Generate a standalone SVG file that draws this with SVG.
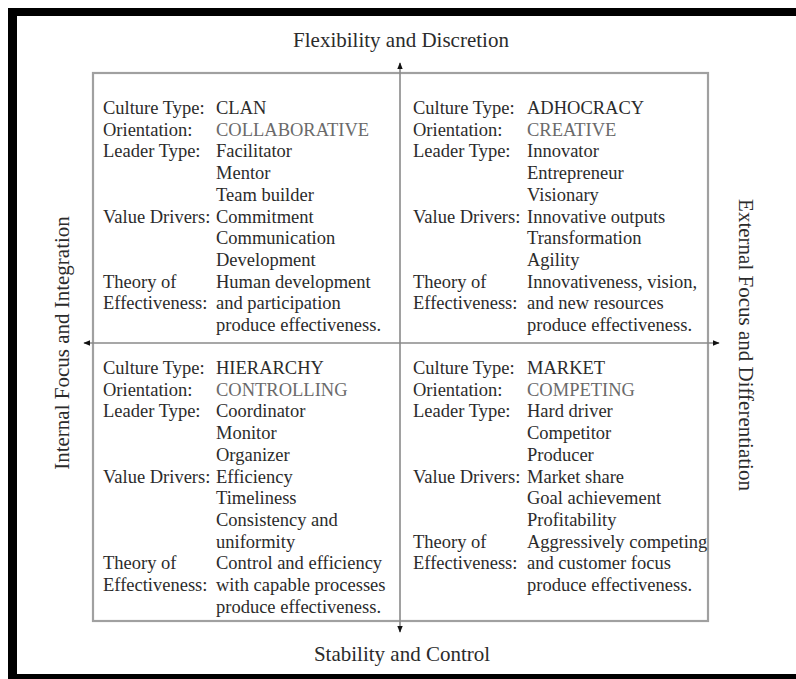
<svg xmlns="http://www.w3.org/2000/svg" width="796" height="679" viewBox="0 0 796 679">
<defs>
<style>
.t{font-family:"Liberation Serif","Times New Roman",serif;font-size:18.5px;fill:#2b2b2b}
.o{fill:#6a6a6a}
.ax{font-family:"Liberation Serif","Times New Roman",serif;font-size:21px;fill:#2b2b2b;text-anchor:middle}
.ln{stroke:#8a8a8a;stroke-width:1.6;fill:none}
.box{stroke:#a0a0a0;stroke-width:2.2;fill:none}
</style>
<marker id="ah" viewBox="0 0 10 10" refX="9" refY="5" markerWidth="7" markerHeight="7" orient="auto-start-reverse" markerUnits="userSpaceOnUse">
<path d="M0,1 L10,5 L0,9 z" fill="#111"/>
</marker>
</defs>
<rect width="796" height="679" fill="#fff"/>
<g id="frame" fill="#000">
<rect x="8" y="8" width="788" height="8"/>
<rect x="8" y="8" width="9" height="671"/>
<rect x="8" y="674" width="788" height="5"/>
</g>
<g id="box">
<rect class="box" x="93" y="73" width="615" height="548"/>
</g>
<g id="connectors">
<line class="ln" x1="400" y1="343" x2="400" y2="63" marker-end="url(#ah)"/>
<line class="ln" x1="400" y1="343" x2="400" y2="632" marker-end="url(#ah)"/>
<line class="ln" x1="400" y1="343" x2="84" y2="343" marker-end="url(#ah)"/>
<line class="ln" x1="400" y1="343" x2="719" y2="343" marker-end="url(#ah)"/>
</g>
<g id="axis-top"><text class="ax" x="401" y="47">Flexibility and Discretion</text></g>
<g id="axis-bottom"><text class="ax" x="402" y="661">Stability and Control</text></g>
<g id="axis-left"><text class="ax" transform="translate(69,343) rotate(-90)">Internal Focus and Integration</text></g>
<g id="axis-right"><text class="ax" transform="translate(739,345) rotate(90)">External Focus and Differentiation</text></g>
<g id="clan" class="t">
<text class="t" x="103" y="114">Culture Type:</text>
<text class="t" x="216" y="114">CLAN</text>
<text class="t" x="103" y="135.7">Orientation:</text>
<text class="t o" x="216" y="135.7">COLLABORATIVE</text>
<text class="t" x="103" y="157.4">Leader Type:</text>
<text class="t" x="216" y="157.4">Facilitator</text>
<text class="t" x="216" y="179.1">Mentor</text>
<text class="t" x="216" y="200.8">Team builder</text>
<text class="t" x="103" y="222.5">Value Drivers:</text>
<text class="t" x="216" y="222.5">Commitment</text>
<text class="t" x="216" y="244.2">Communication</text>
<text class="t" x="216" y="265.9">Development</text>
<text class="t" x="103" y="287.6">Theory of</text>
<text class="t" x="216" y="287.6">Human development</text>
<text class="t" x="103" y="309.3">Effectiveness:</text>
<text class="t" x="216" y="309.3">and participation</text>
<text class="t" x="216" y="331">produce effectiveness.</text>
</g>
<g id="adhocracy">
<text class="t" x="413" y="114">Culture Type:</text>
<text class="t" x="527" y="114">ADHOCRACY</text>
<text class="t" x="413" y="135.7">Orientation:</text>
<text class="t o" x="527" y="135.7">CREATIVE</text>
<text class="t" x="413" y="157.4">Leader Type:</text>
<text class="t" x="527" y="157.4">Innovator</text>
<text class="t" x="527" y="179.1">Entrepreneur</text>
<text class="t" x="527" y="200.8">Visionary</text>
<text class="t" x="413" y="222.5">Value Drivers:</text>
<text class="t" x="527" y="222.5">Innovative outputs</text>
<text class="t" x="527" y="244.2">Transformation</text>
<text class="t" x="527" y="265.9">Agility</text>
<text class="t" x="413" y="287.6">Theory of</text>
<text class="t" x="527" y="287.6">Innovativeness, vision,</text>
<text class="t" x="413" y="309.3">Effectiveness:</text>
<text class="t" x="527" y="309.3">and new resources</text>
<text class="t" x="527" y="331">produce effectiveness.</text>
</g>
<g id="hierarchy">
<text class="t" x="103" y="374">Culture Type:</text>
<text class="t" x="216" y="374">HIERARCHY</text>
<text class="t" x="103" y="395.7">Orientation:</text>
<text class="t o" x="216" y="395.7">CONTROLLING</text>
<text class="t" x="103" y="417.4">Leader Type:</text>
<text class="t" x="216" y="417.4">Coordinator</text>
<text class="t" x="216" y="439.1">Monitor</text>
<text class="t" x="216" y="460.8">Organizer</text>
<text class="t" x="103" y="482.5">Value Drivers:</text>
<text class="t" x="216" y="482.5">Efficiency</text>
<text class="t" x="216" y="504.2">Timeliness</text>
<text class="t" x="216" y="525.9">Consistency and</text>
<text class="t" x="216" y="547.6">uniformity</text>
<text class="t" x="103" y="569.3">Theory of</text>
<text class="t" x="216" y="569.3">Control and efficiency</text>
<text class="t" x="103" y="591">Effectiveness:</text>
<text class="t" x="216" y="591">with capable processes</text>
<text class="t" x="216" y="612.7">produce effectiveness.</text>
</g>
<g id="market">
<text class="t" x="413" y="374">Culture Type:</text>
<text class="t" x="527" y="374">MARKET</text>
<text class="t" x="413" y="395.7">Orientation:</text>
<text class="t o" x="527" y="395.7">COMPETING</text>
<text class="t" x="413" y="417.4">Leader Type:</text>
<text class="t" x="527" y="417.4">Hard driver</text>
<text class="t" x="527" y="439.1">Competitor</text>
<text class="t" x="527" y="460.8">Producer</text>
<text class="t" x="413" y="482.5">Value Drivers:</text>
<text class="t" x="527" y="482.5">Market share</text>
<text class="t" x="527" y="504.2">Goal achievement</text>
<text class="t" x="527" y="525.9">Profitability</text>
<text class="t" x="413" y="547.6">Theory of</text>
<text class="t" x="527" y="547.6">Aggressively competing</text>
<text class="t" x="413" y="569.3">Effectiveness:</text>
<text class="t" x="527" y="569.3">and customer focus</text>
<text class="t" x="527" y="591">produce effectiveness.</text>
</g>
</svg>
